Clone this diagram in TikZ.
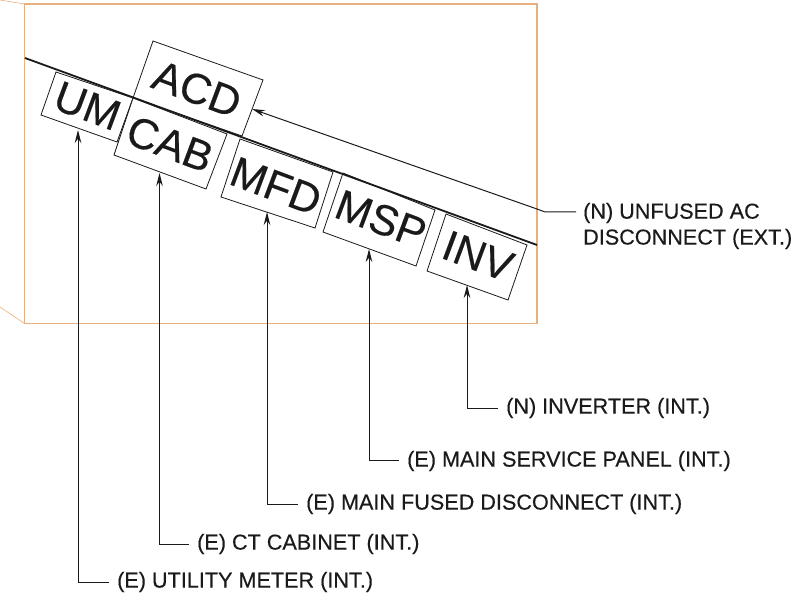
\documentclass[tikz,border=0pt]{standalone}
\usepackage{fontspec}
\setmainfont{Liberation Sans}
\newfontfamily\heavyfont[FakeBold=0.35]{Liberation Sans}
\usetikzlibrary{arrows.meta}
\definecolor{wallc}{HTML}{E8B07E}
\definecolor{inkc}{HTML}{1A1A1A}
\tikzset{
  wall/.style={draw=wallc,line width=1.2bp},
  boxl/.style={draw=inkc,line width=0.8bp,fill=white},
  lead/.style={draw=inkc,line width=1bp},
  tip/.style={lead,-{Stealth[length=13bp,width=6.5bp]}},
  tag/.style={font=\fontsize{21.7}{26}\selectfont\heavyfont,anchor=west,inner sep=0pt,text=inkc},
  big/.style={font=\fontsize{43}{43}\selectfont\heavyfont,rotate=-20.5,inner sep=0pt,text=inkc},
}
\begin{document}
\begin{tikzpicture}[x=1bp,y=-1bp]
\useasboundingbox (0,0) rectangle (801,599);
\fill[white] (0,0) rectangle (801,599);
% walls
\draw[wall] (24.5,4) rectangle (537,323.5);
\draw[wall,line width=.6bp] (0,0) -- (24.5,4);
\draw[wall,line width=.6bp] (0,307) -- (24.5,323.5);
% label boxes
\draw[boxl] (153,41) -- (263,80) -- (242,136) -- (133,98) -- cycle;
\draw[boxl] (56,72) -- (133,98) -- (117,142) -- (41,115) -- cycle;
\draw[boxl] (133,98) -- (227,134) -- (206,189) -- (114,155) -- cycle;
\draw[boxl] (240,139) -- (333,172) -- (315,228) -- (221,197) -- cycle;
\draw[boxl] (343,173) -- (435,210) -- (416,266) -- (323,232) -- cycle;
\draw[boxl] (446,214) -- (527,245) -- (508,300) -- (427,271) -- cycle;
% wall run
\coordinate (wa) at (25,58);
\coordinate (wb) at (537,245);
\draw[draw=inkc,line width=1.8bp] (wa) -- (wb);
% box texts
\node[big] (acd) at (197,89) {ACD};
\node[big] (um) at (87.5,106) {UM};
\node[big] (cab) at (170,144) {CAB};
\node[big] (mfd) at (276,186) {MFD};
\node[big] (msp) at (381,219) {MSP};
\node[big] (inv) at (478,256) {INV};
% tags
\node[tag,align=left] (tacd) at (583,226) {(N) UNFUSED AC\\DISCONNECT (EXT.)};
\node[tag] (tinv) at (506,408) {(N) INVERTER (INT.)};
\node[tag] (tmsp) at (407,461) {(E) MAIN SERVICE PANEL (INT.)};
\node[tag] (tmfd) at (306,504) {(E) MAIN FUSED DISCONNECT (INT.)};
\node[tag] (tcab) at (197,544) {(E) CT CABINET (INT.)};
\node[tag] (tum) at (117,582) {(E) UTILITY METER (INT.)};
% leader targets
\coordinate (pacd) at (252,109);
\coordinate (pum) at (78,130);
\coordinate (pcab) at (159.5,173);
\coordinate (pmfd) at (267,212);
\coordinate (pmsp) at (369,249);
\coordinate (pinv) at (467,285);
\draw[tip] (576,212) -- (545,212) -- (537,209) -- (pacd);
\draw[tip] (498,408) -- (467,408) -- (pinv);
\draw[tip] (399,460) -- (369,460) -- (pmsp);
\draw[tip] (298,504) -- (267,504) -- (pmfd);
\draw[tip] (189,544) -- (159.5,544) -- (pcab);
\draw[tip] (109,582) -- (78,582) -- (pum);
\end{tikzpicture}
\end{document}
